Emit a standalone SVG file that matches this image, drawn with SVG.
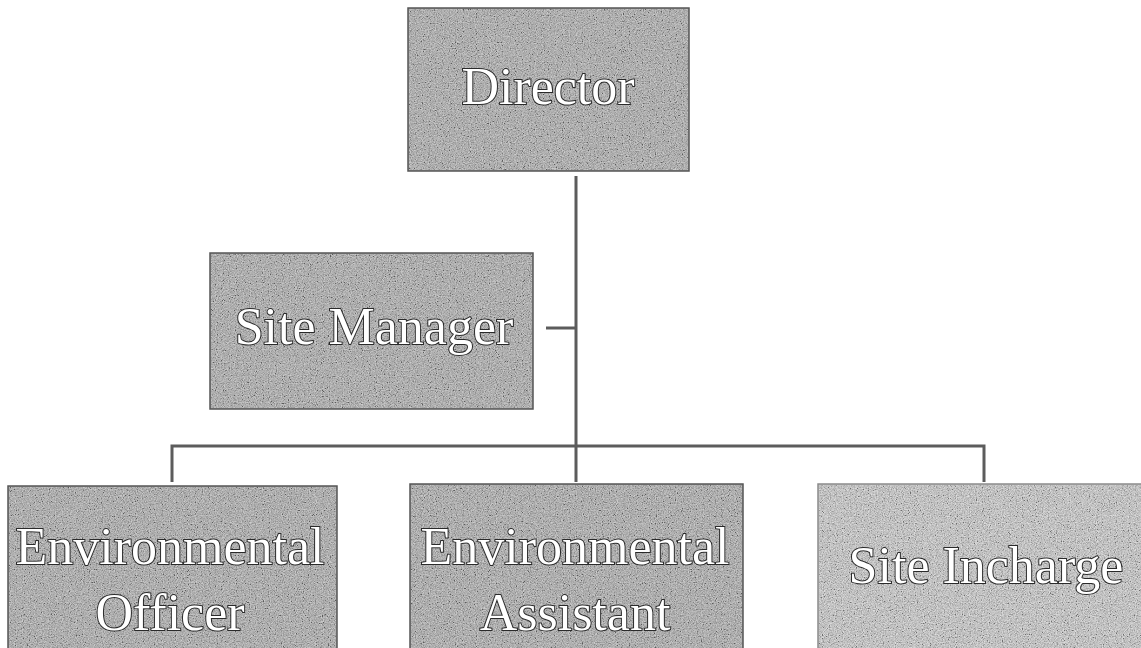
<svg xmlns="http://www.w3.org/2000/svg" width="1141" height="648" viewBox="0 0 1141 648">
  <defs>
    <style>
      .box { fill: #a6a6a6; stroke: #555555; stroke-width: 1.5; }
      .box.light { fill: #c8c8c8; stroke: #8a8a8a; }
      .grain { fill: #808080; opacity: 0.45; filter: url(#grain); }
      .label { font-family: "Liberation Serif", "Times New Roman", serif; font-size: 52px; fill: #ffffff; stroke: #2a2a2a; stroke-width: 2; paint-order: stroke; text-anchor: middle; }
      .wire { fill: none; stroke: #5c5c5c; stroke-width: 3; }
    </style>
    <!-- speckled print texture laid over the box fills -->
    <filter id="grain" x="0" y="0" width="100%" height="100%">
      <feTurbulence type="fractalNoise" baseFrequency="0.85" numOctaves="2" seed="7" result="noise"/>
      <feColorMatrix in="noise" type="matrix" values="0.33 0.33 0.33 0 0  0.33 0.33 0.33 0 0  0.33 0.33 0.33 0 0  0 0 0 0 1" result="gray"/>
      <feComponentTransfer in="gray" result="contrast">
        <feFuncR type="linear" slope="3" intercept="-1"/>
        <feFuncG type="linear" slope="3" intercept="-1"/>
        <feFuncB type="linear" slope="3" intercept="-1"/>
      </feComponentTransfer>
      <feComposite in="contrast" in2="SourceGraphic" operator="in"/>
    </filter>
  </defs>
  <rect width="1141" height="648" fill="#ffffff"/>

  <!-- connectors -->
  <g id="connectors">
    <path class="wire" d="M576,176 V482"/>
    <path class="wire" d="M546,328 H576"/>
    <path class="wire" d="M172,482 V446 H984 V482"/>
  </g>

  <g id="director">
    <rect class="box" x="408" y="8" width="281" height="163"/>
    <rect class="grain" x="409" y="9" width="279" height="161"/>
    <text class="label" x="548" y="104">Director</text>
  </g>

  <g id="site-manager">
    <rect class="box" x="210" y="253" width="323" height="156"/>
    <rect class="grain" x="211" y="254" width="321" height="154"/>
    <text class="label" x="374" y="344" font-size="54">Site Manager</text>
  </g>

  <g id="environmental-officer">
    <rect class="box" x="8" y="486" width="329" height="175"/>
    <rect class="grain" x="9" y="487" width="327" height="173"/>
    <text class="label" x="170" y="564">Environmental</text>
    <text class="label" x="170" y="630">Officer</text>
  </g>

  <g id="environmental-assistant">
    <rect class="box" x="410" y="484" width="333" height="177"/>
    <rect class="grain" x="411" y="485" width="331" height="175"/>
    <text class="label" x="575" y="564">Environmental</text>
    <text class="label" x="575" y="630">Assistant</text>
  </g>

  <g id="site-incharge">
    <rect class="box light" x="818" y="484" width="330" height="177"/>
    <rect class="grain" x="819" y="485" width="328" height="175" opacity="0.3"/>
    <text class="label" x="986" y="583">Site Incharge</text>
  </g>
</svg>
